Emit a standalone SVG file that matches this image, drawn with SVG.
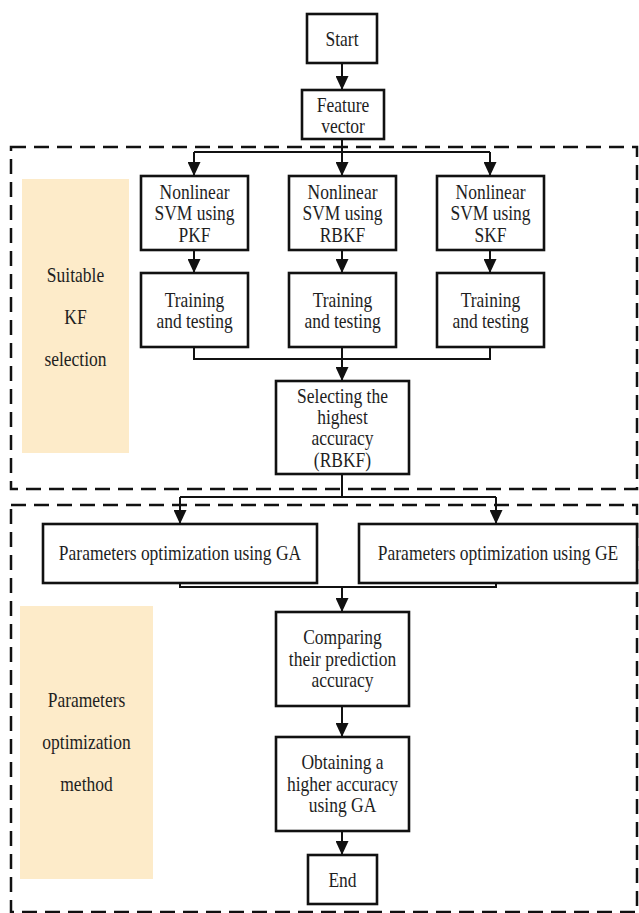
<svg xmlns="http://www.w3.org/2000/svg" width="639" height="913" viewBox="0 0 639 913">
<style>
.box{fill:#fff;stroke:#111;stroke-width:2.6}
.dash{fill:none;stroke:#111;stroke-width:2.5;stroke-dasharray:15 8}
.tan{fill:#FDEBC9;stroke:none}
.t{font-family:'Liberation Serif',Tinos,'DejaVu Serif',serif;font-size:17.5px;fill:#1e1e1e;text-anchor:middle}
.c{fill:none;stroke:#111;stroke-width:2}
</style>
<defs>
<marker id="ah" viewBox="0 0 14 13" refX="14" refY="6.5" markerWidth="14" markerHeight="13" markerUnits="userSpaceOnUse" orient="auto">
<path d="M0,0 L14,6.5 L0,13 z" fill="#111"/>
</marker>
</defs>
<rect width="639" height="913" fill="#fff"/>
<g id="group-kf">
<rect class="dash" x="11" y="147" width="626" height="342"/>
<rect class="tan" x="22" y="179" width="107" height="274"/>
<text class="t" transform="matrix(1,0,0,1.15,75.5,282)">Suitable</text>
<text class="t" transform="matrix(1,0,0,1.15,75.5,324)">KF</text>
<text class="t" transform="matrix(1,0,0,1.15,75.5,366)">selection</text>
</g>
<g id="group-param">
<rect class="dash" x="11" y="505" width="626" height="407"/>
<rect class="tan" x="20" y="606" width="133" height="273"/>
<text class="t" transform="matrix(1,0,0,1.15,86.5,707)">Parameters</text>
<text class="t" transform="matrix(1,0,0,1.15,86.5,749)">optimization</text>
<text class="t" transform="matrix(1,0,0,1.15,86.5,791)">method</text>
</g>
<g id="connectors">
<line class="c" x1="342" y1="63" x2="342" y2="90" marker-end="url(#ah)"/>
<polyline class="c" points="342,139 342,152"/>
<polyline class="c" points="194,152 490,152"/>
<line class="c" x1="194" y1="152" x2="194" y2="176" marker-end="url(#ah)"/>
<line class="c" x1="342" y1="152" x2="342" y2="176" marker-end="url(#ah)"/>
<line class="c" x1="490" y1="152" x2="490" y2="176" marker-end="url(#ah)"/>
<line class="c" x1="194" y1="250" x2="194" y2="273" marker-end="url(#ah)"/>
<line class="c" x1="342" y1="250" x2="342" y2="273" marker-end="url(#ah)"/>
<line class="c" x1="490" y1="250" x2="490" y2="273" marker-end="url(#ah)"/>
<polyline class="c" points="194,347 194,359 490,359 490,347"/>
<line class="c" x1="342" y1="347" x2="342" y2="381" marker-end="url(#ah)"/>
<polyline class="c" points="342,474 342,497"/>
<polyline class="c" points="180,497 496,497"/>
<line class="c" x1="180" y1="497" x2="180" y2="524" marker-end="url(#ah)"/>
<line class="c" x1="496" y1="497" x2="496" y2="524" marker-end="url(#ah)"/>
<polyline class="c" points="180,583 180,587 496,587 496,583"/>
<line class="c" x1="342" y1="587" x2="342" y2="612" marker-end="url(#ah)"/>
<line class="c" x1="342" y1="706" x2="342" y2="737" marker-end="url(#ah)"/>
<line class="c" x1="342" y1="831" x2="342" y2="855" marker-end="url(#ah)"/>
</g>
<g id="start">
<rect class="box" x="307" y="14" width="70" height="49"/>
<text class="t" transform="matrix(1,0,0,1.15,342,46)">Start</text>
</g>
<g id="feature">
<rect class="box" x="302" y="90" width="82" height="49"/>
<text class="t" transform="matrix(1,0,0,1.15,343,112)">Feature</text>
<text class="t" transform="matrix(1,0,0,1.15,343,133)">vector</text>
</g>
<g id="svm-pkf">
<rect class="box" x="141" y="176" width="107" height="74"/>
<text class="t" transform="matrix(1,0,0,1.15,194.5,199)">Nonlinear</text>
<text class="t" transform="matrix(1,0,0,1.15,194.5,220)">SVM using</text>
<text class="t" transform="matrix(1,0,0,1.15,194.5,242)">PKF</text>
</g>
<g id="svm-rbkf">
<rect class="box" x="289" y="176" width="107" height="74"/>
<text class="t" transform="matrix(1,0,0,1.15,342.5,199)">Nonlinear</text>
<text class="t" transform="matrix(1,0,0,1.15,342.5,220)">SVM using</text>
<text class="t" transform="matrix(1,0,0,1.15,342.5,242)">RBKF</text>
</g>
<g id="svm-skf">
<rect class="box" x="437" y="176" width="107" height="74"/>
<text class="t" transform="matrix(1,0,0,1.15,490.5,199)">Nonlinear</text>
<text class="t" transform="matrix(1,0,0,1.15,490.5,220)">SVM using</text>
<text class="t" transform="matrix(1,0,0,1.15,490.5,242)">SKF</text>
</g>
<g id="train-pkf">
<rect class="box" x="141" y="273" width="107" height="74"/>
<text class="t" transform="matrix(1,0,0,1.15,194.5,307)">Training</text>
<text class="t" transform="matrix(1,0,0,1.15,194.5,328)">and testing</text>
</g>
<g id="train-rbkf">
<rect class="box" x="289" y="273" width="107" height="74"/>
<text class="t" transform="matrix(1,0,0,1.15,342.5,307)">Training</text>
<text class="t" transform="matrix(1,0,0,1.15,342.5,328)">and testing</text>
</g>
<g id="train-skf">
<rect class="box" x="437" y="273" width="107" height="74"/>
<text class="t" transform="matrix(1,0,0,1.15,490.5,307)">Training</text>
<text class="t" transform="matrix(1,0,0,1.15,490.5,328)">and testing</text>
</g>
<g id="select">
<rect class="box" x="276" y="381" width="133" height="93"/>
<text class="t" transform="matrix(1,0,0,1.15,342.5,403)">Selecting the</text>
<text class="t" transform="matrix(1,0,0,1.15,342.5,424)">highest</text>
<text class="t" transform="matrix(1,0,0,1.15,342.5,445)">accuracy</text>
<text class="t" transform="matrix(1,0,0,1.15,342.5,467)">(RBKF)</text>
</g>
<g id="opt-ga">
<rect class="box" x="43" y="524" width="274" height="59"/>
<text class="t" transform="matrix(1,0,0,1.15,180,560)">Parameters optimization using GA</text>
</g>
<g id="opt-ge">
<rect class="box" x="359" y="524" width="278" height="59"/>
<text class="t" transform="matrix(1,0,0,1.15,498,560)">Parameters optimization using GE</text>
</g>
<g id="compare">
<rect class="box" x="276" y="612" width="133" height="94"/>
<text class="t" transform="matrix(1,0,0,1.15,342.5,644)">Comparing</text>
<text class="t" transform="matrix(1,0,0,1.15,342.5,666)">their prediction</text>
<text class="t" transform="matrix(1,0,0,1.15,342.5,687)">accuracy</text>
</g>
<g id="obtain">
<rect class="box" x="276" y="737" width="133" height="94"/>
<text class="t" transform="matrix(1,0,0,1.15,342.5,769)">Obtaining a</text>
<text class="t" transform="matrix(1,0,0,1.15,342.5,791)">higher accuracy</text>
<text class="t" transform="matrix(1,0,0,1.15,342.5,812)">using GA</text>
</g>
<g id="end">
<rect class="box" x="308" y="855" width="69" height="49"/>
<text class="t" transform="matrix(1,0,0,1.15,342.5,887)">End</text>
</g>
</svg>
